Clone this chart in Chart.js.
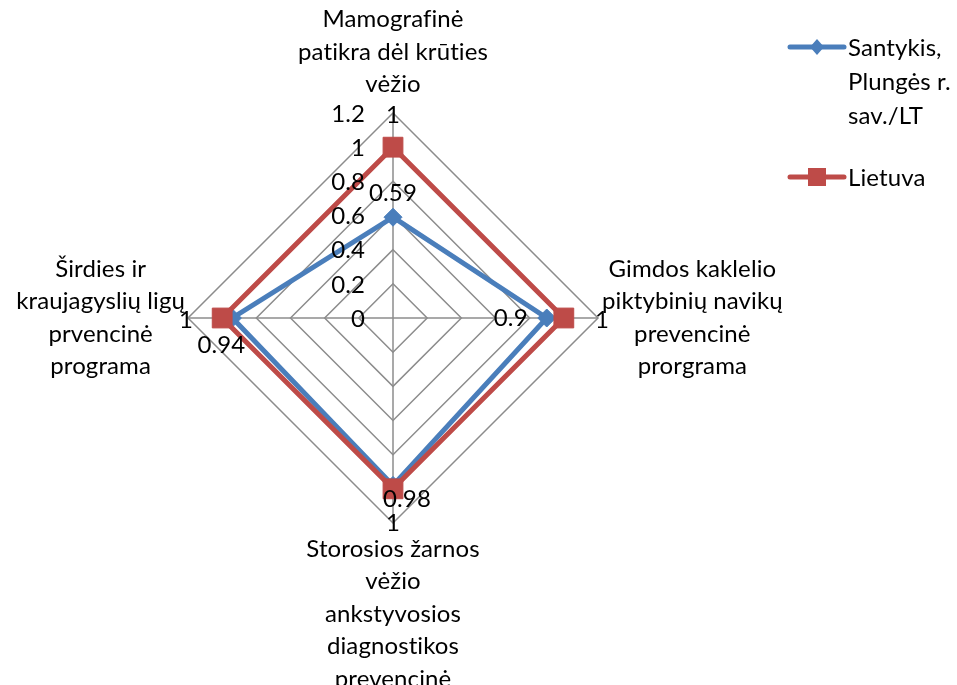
<!DOCTYPE html>
<html>
<head>
<meta charset="utf-8">
<script src="https://cdn.jsdelivr.net/npm/chart.js@4.4.1/dist/chart.umd.min.js"></script>
<style>
  html, body { margin: 0; padding: 0; background: #fff; }
  #chart { display: block; }
</style>
</head>
<body>
<canvas id="chart" width="957" height="685"></canvas>
<script>
const categories = [
  ['Mamografinė', 'patikra dėl krūties', 'vėžio'],
  ['Gimdos kaklelio', 'piktybinių navikų', 'prevencinė', 'prorgrama'],
  ['Storosios žarnos', 'vėžio', 'ankstyvosios', 'diagnostikos', 'prevencinė', 'programa'],
  ['Širdies ir', 'kraujagyslių ligų', 'prvencinė', 'programa']
]
const santykis = [0.59, 0.9, 0.98, 0.94]
const lietuva = [1, 1, 1, 1]
const tickValues = [0, 0.2, 0.4, 0.6, 0.8, 1, 1.2]
const tickLabels = ['0', '0.2', '0.4', '0.6', '0.8', '1', '1.2']
const seriesNames = [['Santykis,', 'Plungės r.', 'sav./LT'], ['Lietuva']]

const BLUE = '#4A7EBB'
const RED = '#BE4B48'
const GRID = '#8C8C8C'
const FONT = '24px Lato, "Noto Sans", sans-serif'
const LINE_H = 32.5

// label offsets (px) relative to each point
const blueOffsets = [[0, -24], [-36, 0], [14, 14], [-11, 27]]
const redOffsets = [[0, 2], [4, 2], [0, 0], [-2, 2]]

const labelsPlugin = {
  id: 'customLabels',
  afterDraw(chart) {
    const ctx = chart.ctx
    const scale = chart.scales.r
    ctx.save()
    ctx.font = FONT
    ctx.letterSpacing = '0.1px' // no ligatures
    ctx.fillStyle = '#000'

    // radial tick labels, left of the vertical axis
    ctx.textAlign = 'right'
    ctx.textBaseline = 'middle'
    tickValues.forEach((v, i) => {
      const d = scale.getDistanceFromCenterForValue(v)
      ctx.fillText(tickLabels[i], scale.xCenter - 28, scale.yCenter - d + 1)
    })

    // category labels
    ctx.textAlign = 'center'
    categories.forEach((lines, i) => {
      const p = scale.getPointPositionForValue(i, scale.max)
      const w = Math.max(...lines.map(l => ctx.measureText(l).width))
      const h = lines.length * LINE_H
      let cx = p.x
      let top = p.y - h / 2
      if (i === 0) top = p.y - 12 - h
      if (i === 1) cx = p.x + 4 + w / 2
      if (i === 2) top = p.y + 10
      if (i === 3) cx = p.x - 3 - w / 2
      lines.forEach((l, j) => {
        ctx.fillText(l, cx, top + LINE_H * j + LINE_H / 2)
      })
    })

    // data labels
    santykis.forEach((v, i) => {
      const p = scale.getPointPositionForValue(i, v)
      ctx.fillText(String(v), p.x + blueOffsets[i][0], p.y + blueOffsets[i][1])
    })
    lietuva.forEach((v, i) => {
      const p = scale.getPointPositionForValue(i, scale.max)
      ctx.fillText(String(v), p.x + redOffsets[i][0], p.y + redOffsets[i][1])
    })

    // legend
    const legendX = 790
    const rows = [47, 177]
    const colors = [BLUE, RED]
    rows.forEach((y, k) => {
      ctx.strokeStyle = colors[k]
      ctx.fillStyle = colors[k]
      ctx.lineWidth = 5
      ctx.lineCap = 'round'
      ctx.beginPath()
      ctx.moveTo(legendX, y)
      ctx.lineTo(legendX + 54, y)
      ctx.stroke()
      const mx = legendX + 27
      ctx.beginPath()
      if (k === 0) {
        ctx.moveTo(mx, y - 8)
        ctx.lineTo(mx + 7, y)
        ctx.lineTo(mx, y + 8)
        ctx.lineTo(mx - 7, y)
        ctx.closePath()
      } else {
        ctx.rect(mx - 9, y - 9, 18, 18)
      }
      ctx.fill()
      ctx.fillStyle = '#000'
      ctx.textAlign = 'left'
      seriesNames[k].forEach((t, j) => {
        ctx.fillText(t, legendX + 58, y + j * 34 + 1)
      })
    })
    ctx.restore()
  }
}

new Chart(document.getElementById('chart'), {
  type: 'radar',
  data: {
    labels: categories,
    datasets: [
      {
        label: 'Santykis, Plungės r. sav./LT',
        data: santykis,
        borderColor: BLUE,
        backgroundColor: BLUE,
        borderWidth: 5,
        fill: false,
        pointStyle: 'rectRot',
        pointRadius: 9,
        pointBorderWidth: 1,
        order: 1
      },
      {
        label: 'Lietuva',
        data: lietuva,
        borderColor: RED,
        backgroundColor: RED,
        borderWidth: 5,
        fill: false,
        pointStyle: 'rect',
        pointRadius: 14,
        pointBorderWidth: 1,
        order: 0
      }
    ]
  },
  options: {
    responsive: false,
    animation: false,
    devicePixelRatio: 1,
    layout: { padding: { left: 188, right: 359, top: 113, bottom: 162 } },
    plugins: { legend: { display: false }, tooltip: { enabled: false } },
    elements: { line: { tension: 0, borderJoinStyle: 'miter' } },
    scales: {
      r: {
        min: 0,
        max: 1.2,
        ticks: { stepSize: 0.2, display: false },
        grid: { color: GRID, lineWidth: 1.5 },
        angleLines: { color: GRID, lineWidth: 1.5 },
        pointLabels: { display: false }
      }
    }
  },
  plugins: [labelsPlugin]
})
</script>
</body>
</html>
